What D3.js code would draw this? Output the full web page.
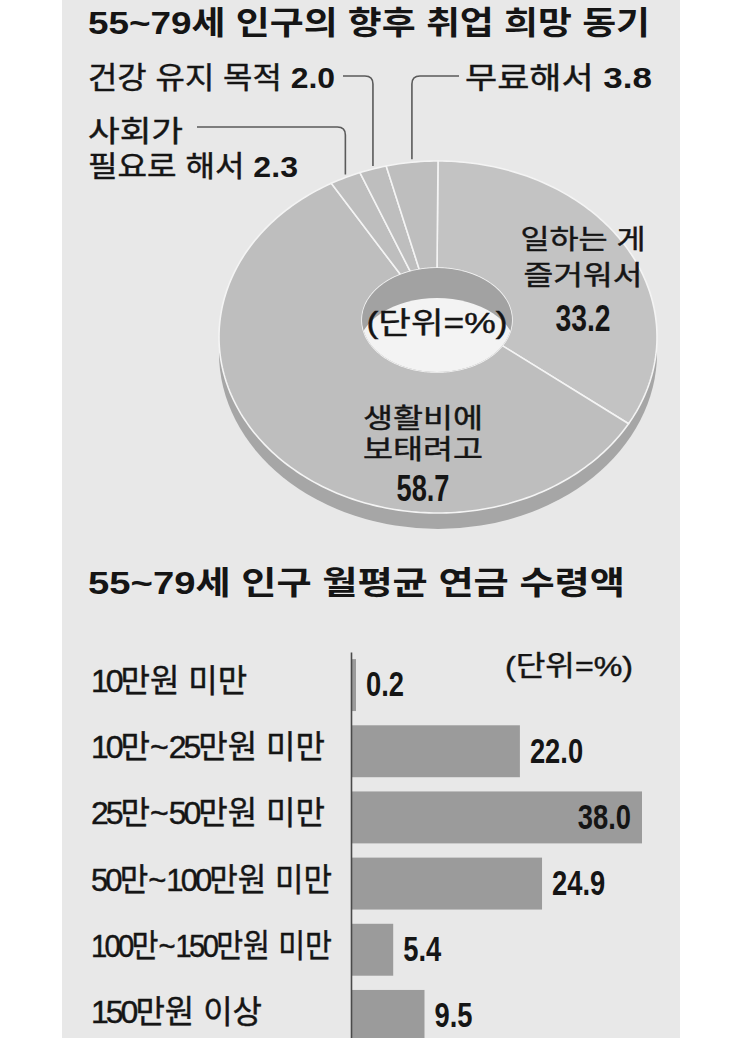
<!DOCTYPE html>
<html lang="ko">
<head>
<meta charset="utf-8">
<title>55~79세 인구</title>
<script src="https://d3js.org/d3.v7.min.js"></script>
<style>
  body { margin: 0; background: #fff; }
  svg { display: block; font-family: "Liberation Sans", "Noto Sans CJK KR", "Noto Sans", sans-serif; }
  text { fill: #151515; }
  .reg { stroke: #151515; stroke-width: 0.45px; }
</style>
</head>
<body>
<svg width="743" height="1044"></svg>
<script>
// --- data ---
var pieLabels = ["일하는 게 즐거워서", "생활비에 보태려고", "사회가 필요로 해서", "건강 유지 목적", "무료해서"];
var pieValues = [33.2, 58.7, 2.3, 2.0, 3.8];

var barCats = ["10만원 미만", "10만~25만원 미만", "25만~50만원 미만", "50만~100만원 미만", "100만~150만원 미만", "150만원 이상"];
var barValues = [0.2, 22.0, 38.0, 24.9, 5.4, 9.5];

var title1 = "55~79세 인구의 향후 취업 희망 동기";
var title2 = "55~79세 인구 월평균 연금 수령액";
var unitText = "(단위=%)";

var svg = d3.select("svg");

// panel
svg.append("rect").attr("x", 62).attr("y", 0).attr("width", 618).attr("height", 1038).attr("fill", "#e8e8e8");

// multi-line text block; each line: {y, parts: [[str, bold]], size, len}
function block(parent, x, lines, anchor) {
    var t = parent.append("text")
        .attr("text-anchor", anchor || "start")
        .attr("dominant-baseline", "central");
    lines.forEach(function(l) {
        var ln = t.append("tspan").attr("x", x).attr("y", l.y).style("font-size", l.size + "px");
        l.parts.forEach(function(p) {
            ln.append("tspan").attr("class", p[1] ? null : "reg").style("font-weight", p[1] ? 700 : 400).text(p[0]);
        });
        if (l.len) ln.attr("textLength", l.len).attr("lengthAdjust", "spacingAndGlyphs");
    });
    return t;
}

// single line; digit runs get tighter spacing, squeezed to maxW if too long
function narrow(parent, x, y, s, o) {
    var t = parent.append("g")
        .attr("transform", "translate(" + x + "," + y + ") scale(" + (o.sx || 1) + ",1)")
        .append("text")
        .attr("text-anchor", o.anchor || "start")
        .attr("dominant-baseline", "central")
        .style("font-size", o.size + "px")
        .style("font-weight", o.bold ? 700 : 400)
        .attr("class", o.bold ? null : "reg");
    s.split(/([\d.]+)/).filter(function(p) { return p.length; }).forEach(function(p) {
        var sp = t.append("tspan").text(p);
        if (/\d/.test(p) && o.dls) sp.style("letter-spacing", o.dls + "px");
    });
    if (o.maxW && t.node().getComputedTextLength() > o.maxW)
        t.attr("textLength", o.maxW).attr("lengthAdjust", "spacingAndGlyphs");
    return t;
}

// ---------- donut ----------
var cx = 438, cy = 337, rx = 219, ry = 176, depth = 16;
var hx = 437, hy = 320, hrx = 75, hry = 52, wall = 30;

function outerPt(a) { return [cx + rx * Math.sin(a), cy - ry * Math.cos(a)]; }
function innerPt(a) { return [hx + hrx * Math.sin(a), hy - hry * Math.cos(a)]; }

function ringPath(a0, a1) {
    var n = Math.max(2, Math.ceil((a1 - a0) / 0.02));
    var pts = d3.range(n + 1).map(function(i) { return outerPt(a0 + (a1 - a0) * i / n); });
    var inn = d3.range(n + 1).map(function(i) { return innerPt(a1 - (a1 - a0) * i / n); });
    return d3.line()(pts.concat(inn)) + "Z";
}

var arcs = d3.pie().sort(null).value(function(d) { return d; })(pieValues);
var pg = svg.append("g");

// 3D side
pg.append("rect").attr("x", cx - rx).attr("y", cy).attr("width", 2 * rx).attr("height", depth).attr("fill", "#a6a6a6");
pg.append("ellipse").attr("cx", cx).attr("cy", cy + depth).attr("rx", rx).attr("ry", ry).attr("fill", "#a6a6a6");

pg.selectAll("path.slice")
    .data(arcs)
    .enter().append("path")
    .attr("class", "slice")
    .attr("d", function(d) { return ringPath(d.startAngle, d.endAngle); })
    .attr("fill", function(d, i) { return i === 0 ? "#c3c3c3" : "#bebebe"; })
    .attr("stroke", "#f4f4f4")
    .attr("stroke-width", 1.6)
    .attr("stroke-linejoin", "round");

// hole with inner wall
svg.append("clipPath").attr("id", "hole")
    .append("ellipse").attr("cx", hx).attr("cy", hy).attr("rx", hrx).attr("ry", hry);
pg.append("ellipse").attr("cx", hx).attr("cy", hy).attr("rx", hrx).attr("ry", hry).attr("fill", "#a2a2a2");
pg.append("ellipse").attr("clip-path", "url(#hole)")
    .attr("cx", hx).attr("cy", hy + wall).attr("rx", hrx + 4).attr("ry", hry).attr("fill", "#f3f3f3");

// leader lines for the small slices
function leader(d, lx, ly, dir) {
    var mid = (d.startAngle + d.endAngle) / 2;
    var p = outerPt(mid), r = 8;
    var path = d3.path();
    path.moveTo(lx, ly);
    path.lineTo(p[0] - dir * r, ly);
    path.quadraticCurveTo(p[0], ly, p[0], ly + r);
    path.lineTo(p[0], p[1] - 3);
    svg.append("path").attr("d", path.toString())
        .attr("fill", "none").attr("stroke", "#5a5a5a").attr("stroke-width", 1.6);
}
leader(arcs[2], 197, 127, 1);
leader(arcs[3], 343, 76, 1);
leader(arcs[4], 459, 76, -1);

// titles
block(svg, 88, [{ y: 23, parts: [[title1, true]], size: 32, len: 562 }]);

// small-slice labels
block(svg, 88, [{ y: 77, parts: [[pieLabels[3] + " ", false], [pieValues[3].toFixed(1), true]], size: 30, len: 247 }]);
block(svg, 465, [{ y: 77, parts: [[pieLabels[4] + " ", false], [pieValues[4].toFixed(1), true]], size: 30, len: 187 }]);
block(svg, 88, [
    { y: 132, parts: [["사회가", false]], size: 29, len: 95 },
    { y: 167, parts: [["필요로 해서 ", false], [pieValues[2].toFixed(1), true]], size: 29, len: 210 }
]);

// big-slice labels
block(svg, 583, [
    { y: 240, parts: [["일하는 게", false]], size: 27, len: 125 },
    { y: 276, parts: [["즐거워서", false]], size: 27, len: 119 },
    { y: 318, parts: [[pieValues[0].toFixed(1), true]], size: 36, len: 55 }
], "middle");
block(svg, 423, [
    { y: 419, parts: [["생활비에", false]], size: 27, len: 120 },
    { y: 450, parts: [["보태려고", false]], size: 27, len: 120 },
    { y: 488, parts: [[pieValues[1].toFixed(1), true]], size: 36, len: 53 }
], "middle");
block(svg, 437, [{ y: 322, parts: [[unitText, false]], size: 30, len: 141 }], "middle");

// ---------- bar chart ----------
block(svg, 88, [{ y: 583, parts: [[title2, true]], size: 32, len: 537 }]);
block(svg, 633, [{ y: 666, parts: [[unitText, false]], size: 28, len: 128 }], "end");

var axisX = 351;
var x = d3.scaleLinear().domain([0, d3.max(barValues)]).range([axisX + 1, 642]);
var y = d3.scaleBand().domain(barCats).range([652, 1049]).paddingInner(0.215).paddingOuter(0.1075);

svg.append("clipPath").attr("id", "panel")
    .append("rect").attr("x", 62).attr("y", 0).attr("width", 618).attr("height", 1038);

var bg = svg.append("g").attr("clip-path", "url(#panel)");

bg.selectAll(".bar")
    .data(barValues)
    .enter().append("rect")
    .attr("class", "bar")
    .attr("x", x(0))
    .attr("y", function(d, i) { return y(barCats[i]); })
    .attr("width", function(d) { return Math.max(4, x(d) - x(0)); })
    .attr("height", y.bandwidth())
    .attr("fill", "#9b9b9b");

var ax = bg.append("g")
    .attr("transform", "translate(" + axisX + ",0)")
    .call(d3.axisLeft(y).tickSize(0).tickFormat(""));
ax.select(".domain").attr("stroke", "#4a4a4a").attr("stroke-width", 1.6);

var maxV = d3.max(barValues);
barValues.forEach(function(v, i) {
    var cyb = y(barCats[i]) + y.bandwidth() / 2;
    narrow(svg, 91, cyb - 4, barCats[i], { size: 32, dls: -3, maxW: axisX - 110 });
    var inside = v === maxV;
    narrow(svg, inside ? x(v) - 11 : Math.max(x(v), x(0) + 4) + 10, cyb - 1, v.toFixed(1),
        { size: 36, sx: 0.76, bold: true, anchor: inside ? "end" : "start" });
});
</script>
</body>
</html>
